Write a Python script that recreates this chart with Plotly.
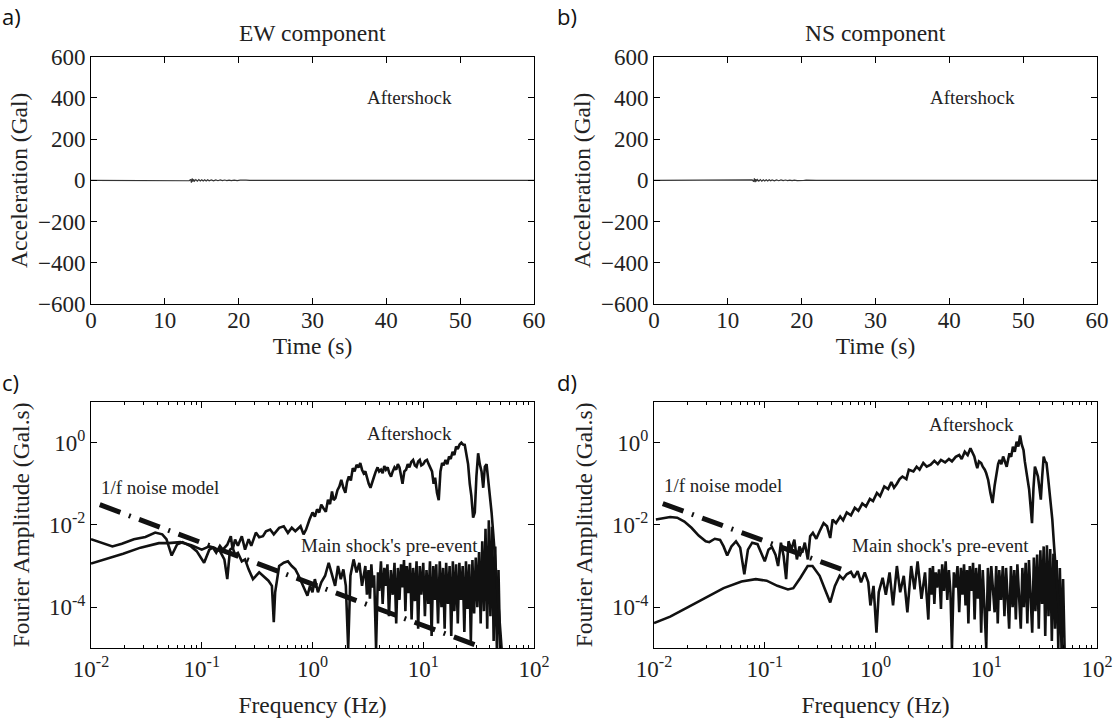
import numpy as np
import plotly.graph_objects as go

# ---------------- data ----------------
# Acceleration time histories (s, Gal)
t_ew = [0, 13.0, 13.3, 13.5, 13.6, 13.7, 13.8, 13.9, 14.0, 14.2, 14.4, 14.6, 14.8, 15.0, 15.2, 15.4,
        15.6, 15.8, 16.0, 16.3, 16.6, 16.9, 17.2, 17.5, 17.8, 18.1, 18.4, 18.7, 19.0, 19.4, 19.8,
        20.2, 20.6, 21.0, 21.5, 22.0, 22.5, 60]
acc_ew = [0, 0, -2, 5, -11, 9, -6, 5, -4, 4, -3.5, 3.5, -3, 3, -3, 2.8, -2.6, 2.5, -2.4, 2.2, -2, 2,
          -1.8, 1.7, -1.6, 1.5, -1.4, 1.3, -1.2, 1.1, -1, 0.9, -0.8, 0.7, -0.5, 0.3, 0, 0]
t_ns = [0, 13.0, 13.3, 13.5, 13.6, 13.7, 13.8, 13.9, 14.0, 14.2, 14.4, 14.6, 14.8, 15.0, 15.2, 15.4,
        15.6, 15.8, 16.0, 16.3, 16.6, 16.9, 17.2, 17.5, 17.8, 18.1, 18.4, 18.7, 19.0, 19.4, 19.8,
        20.2, 20.6, 21.0, 21.5, 22.0, 22.5, 60]
acc_ns = [0, 0, 2, -6, 10, -9, 6, -5, 4, -4, 3.5, -3.5, 3, -3, 2.8, -2.6, 2.5, -2.4, 2.2, -2, 2, -1.8,
          1.7, -1.6, 1.5, -1.4, 1.3, -1.2, 1.1, -1, 0.9, -0.8, 0.7, -0.5, 0.4, -0.2, 0, 0]

# Fourier spectra, EW component (Hz, Gal.s)
ew_after_f = [0.01, 0.0125, 0.0156, 0.019, 0.0244, 0.031, 0.038, 0.044, 0.048, 0.0535, 0.06, 0.067,
              0.08, 0.09, 0.1, 0.105, 0.117, 0.126, 0.135, 0.146, 0.155, 0.17, 0.183, 0.19, 0.2,
              0.212, 0.23, 0.246, 0.265, 0.28, 0.308, 0.33, 0.357, 0.38, 0.415, 0.447, 0.5, 0.55,
              0.6, 0.65, 0.7, 0.78, 0.83, 0.875, 0.94,
              1.0, 1.05, 1.1, 1.15, 1.2, 1.26, 1.32, 1.38, 1.44, 1.5, 1.55, 1.61, 1.68, 1.75, 1.82,
              1.9, 1.98, 2.05, 2.13, 2.22, 2.31, 2.4, 2.5, 2.6, 2.7, 2.8, 2.9, 3.0, 3.1, 3.22, 3.34,
              3.47, 3.6, 3.73, 3.87, 4.0, 4.15, 4.3, 4.45, 4.6, 4.77, 4.94, 5.12, 5.3, 5.5, 5.7,
              5.9, 6.1, 6.3, 6.5, 6.75, 7.0, 7.25, 7.5, 7.8, 8.1, 8.4, 8.7, 9.0, 9.3, 9.6, 10.0,
              10.4, 10.8, 11.2, 11.6, 12.0, 12.4, 12.8, 13.3, 13.8, 14.3, 14.8, 15.3, 15.9, 16.5,
              17.1, 17.7, 18.4, 19.1, 19.8, 20.5, 21.3, 22.1, 22.9, 23.7, 24.5, 25.4, 26.3, 27.2,
              28.2, 29.2, 30.2, 31.3, 32.4, 33.6, 34.8, 36.0, 37.3, 38.6, 40.0, 41.4, 42.9, 44.4,
              46.0, 47.6, 49.3, 51]
ew_after_a = [4.5e-3, 3.6e-3, 3.0e-3, 3.5e-3, 4.5e-3, 5.1e-3, 6.5e-3, 5.9e-3, 4.5e-3, 1.8e-3, 3.4e-3,
              3.8e-3, 3.0e-3, 2.3e-3, 1.45e-3, 1.2e-3, 2.5e-3, 2.8e-3, 2.1e-3, 3.1e-3, 2.5e-3,
              3.3e-3, 5.3e-3, 2.5e-3, 4.4e-3, 3.1e-3, 5.3e-3, 2.5e-3, 4.5e-3, 3.1e-3, 6.5e-3, 5e-3,
              5.3e-3, 7e-3, 7.7e-3, 5.9e-3, 8.5e-3, 9.3e-3, 6.4e-3, 8.5e-3, 7e-3, 9.3e-3, 5.9e-3,
              7.7e-3, 1.35e-2,
              2e-2, 1.6e-2, 2.4e-2, 2e-2, 3.1e-2, 2.5e-2, 2.1e-2, 4.1e-2, 3.2e-2, 6.5e-2, 4e-2,
              4.5e-2, 7e-2, 8.6e-2, 0.125, 8e-2, 6e-2, 0.11, 0.15, 0.12, 0.24, 0.2, 0.29, 0.25,
              0.32, 0.22, 0.18, 0.2, 0.14, 0.1, 8e-2, 0.12, 0.15, 0.2, 0.25, 0.2, 0.22, 0.18, 0.27,
              0.22, 0.25, 0.18, 0.15, 0.2, 0.25, 0.22, 0.3, 0.25, 0.16, 0.1, 0.2, 0.22, 0.3, 0.25,
              0.34, 0.38, 0.28, 0.26, 0.35, 0.38, 0.28, 0.3, 0.36, 0.38, 0.3, 0.25, 0.2, 0.1, 0.14,
              0.06, 0.04, 0.2, 0.32, 0.28, 0.38, 0.3, 0.46, 0.4, 0.6, 0.5, 0.8, 0.7, 0.9, 1.0, 0.9,
              0.88, 0.5, 0.3, 0.1, 0.05, 0.015, 0.02, 0.15, 0.55, 0.3, 0.2, 0.08, 0.26, 0.3, 0.12,
              0.06, 0.02, 6e-3, 1.5e-3, 5e-4, 1.5e-4, 4e-5, 1e-5]
ew_pre_f = [0.01, 0.0135, 0.0195, 0.028, 0.041, 0.05, 0.064, 0.0805, 0.1, 0.117, 0.13, 0.146, 0.16,
            0.17, 0.18, 0.19, 0.2, 0.212, 0.23, 0.246, 0.265, 0.29, 0.308, 0.33, 0.357, 0.4, 0.43,
            0.447, 0.46, 0.5, 0.55, 0.6, 0.65, 0.7, 0.75, 0.8, 0.85, 0.9, 0.95, 1.0, 1.05, 1.12,
            1.2, 1.3, 1.4, 1.5, 1.6, 1.7, 1.8, 1.9, 2.0, 2.1, 2.2, 2.35, 2.5, 2.65, 2.8,
            3.0, 3.1, 3.2, 3.3, 3.4, 3.5, 3.6, 3.75, 3.9, 4.0, 4.15, 4.3, 4.45, 4.6, 4.75, 4.9,
            5.1, 5.3, 5.5, 5.7, 5.9, 6.1, 6.3, 6.5, 6.7, 6.9, 7.1, 7.35, 7.6, 7.85, 8.1, 8.4, 8.7,
            9.0, 9.3, 9.6, 10, 10.35, 10.7, 11.1, 11.5, 11.9, 12.3, 12.7, 13.1, 13.6, 14.1, 14.6,
            15.1, 15.6, 16.1, 16.7, 17.3, 17.9, 18.5, 19.1, 19.8, 20.5, 21.2, 21.9, 22.7, 23.5,
            24.3, 25.1, 26, 26.9, 27.8, 28.8, 29.8, 30.8, 31.9, 33, 34.1, 35.3, 36.5, 37.8, 39.1,
            40.4, 41.8, 43.2, 44.7, 46.2, 47.8, 49.4, 51]
ew_pre_a = [1.15e-3, 1.45e-3, 2.0e-3, 2.8e-3, 3.6e-3, 3.6e-3, 3.8e-3, 3.2e-3, 2.5e-3, 3.0e-3, 2.8e-3,
            2.3e-3, 1.45e-3, 4.8e-4, 2.5e-3, 2.8e-3, 1.9e-3, 2.1e-3, 1.3e-3, 1.45e-3, 8.3e-4,
            4.8e-4, 5.8e-4, 7e-4, 5.8e-4, 4.4e-4, 3.3e-4, 4.3e-5, 2.3e-4, 1e-3, 1.2e-3, 1.3e-3,
            1e-3, 8.3e-4, 5.8e-4, 4e-4, 2.7e-4, 1.9e-4, 3.3e-4, 2.3e-4, 4.8e-4, 2.3e-4, 4e-4,
            5.8e-4, 1.2e-3, 5.8e-4, 3.3e-4, 1e-3, 4.8e-4, 8.3e-4, 3.3e-4, 1e-5, 5.8e-4, 1.45e-3,
            7e-4, 1.2e-3, 3.3e-4,
            1e-3, 2e-4, 8e-4, 1.6e-4, 1.1e-3, 3e-4, 6e-4, 1e-5, 7e-4, 2.5e-4, 1.3e-3, 1.2e-4,
            9e-4, 3.3e-4, 1.1e-3, 6e-5, 8e-4, 2e-4, 1.2e-3, 4e-5, 9e-4, 1.5e-4, 1.1e-3, 3e-4,
            1.4e-3, 8e-5, 1e-3, 2.2e-4, 1.2e-3, 5e-5, 9e-4, 1.4e-4, 1.3e-3, 3e-5, 1e-3, 2e-4,
            1.2e-3, 6e-5, 8e-4, 1.2e-4, 1.3e-3, 2e-5, 1e-3, 1.5e-4, 1.1e-3, 4e-5, 1.3e-3, 1e-4,
            9e-4, 3e-5, 1.2e-3, 1.2e-4, 1e-3, 2e-5, 1.3e-3, 8e-5, 1.1e-3, 4e-5, 1.2e-3, 1.5e-4,
            1e-3, 2.5e-5, 1.3e-3, 9e-5, 1.1e-3, 1.5e-5, 1.4e-3, 7e-5, 1.6e-3, 1e-4, 2.2e-3, 4e-5,
            4e-3, 8e-5, 8e-3, 3e-5, 1.3e-2, 6e-5, 9e-3, 1.5e-5, 3e-3, 1e-5, 8e-4, 1e-5, 1e-5]
ew_noise_f = [0.012, 31]
ew_noise_a = [0.031, 1.15e-5]

# Fourier spectra, NS component (Hz, Gal.s)
ns_after_f = [0.0104, 0.012, 0.014, 0.0162, 0.0188, 0.0218, 0.0253, 0.0293, 0.0316, 0.0354, 0.0395,
              0.0425, 0.0458, 0.05, 0.055, 0.06, 0.0654, 0.0705, 0.077, 0.086, 0.093, 0.1, 0.108,
              0.116, 0.125, 0.132, 0.14, 0.148, 0.156, 0.164, 0.174, 0.185, 0.195, 0.206, 0.218,
              0.23, 0.245, 0.257, 0.272, 0.292, 0.313, 0.34, 0.365, 0.39, 0.41, 0.44, 0.48, 0.51,
              0.55, 0.6, 0.65, 0.7, 0.76, 0.82, 0.89, 0.95, 1.03, 1.1, 1.2, 1.3, 1.39, 1.47, 1.56,
              1.65, 1.75, 1.9, 2.0, 2.2, 2.35, 2.5, 2.7, 2.9, 3.15, 3.4, 3.65, 3.9, 4.25, 4.6, 4.9,
              5.3, 5.7, 6.0, 6.4, 6.8,
              7.2, 7.5, 7.8, 8.1, 8.3, 8.6, 9.0, 9.3, 9.7, 10.0, 10.4, 10.9, 11.4, 11.9, 12.3, 12.8,
              13.2, 13.7, 14.2, 14.7, 15.3, 15.8, 16.2, 16.8, 17.4, 18.1, 18.8, 19.5, 20.2, 20.9,
              21.7, 22.3, 23.0, 23.7, 24.4, 25.1, 25.9, 26.7, 27.5, 28.4, 29.3, 30.2, 31.1, 32.0,
              33, 34, 35, 36.1, 37.2, 38.3, 39.5, 40.7, 42, 43.2, 44.5, 45.8, 47.2, 49.3]
ns_after_a = [1.35e-2, 1.45e-2, 1.55e-2, 1.5e-2, 1.2e-2, 8.5e-3, 5.5e-3, 4e-3, 3.8e-3, 4.6e-3, 4.3e-3,
              3e-3, 1.8e-3, 3e-3, 4e-3, 2.8e-3, 6.3e-4, 2.5e-3, 3.7e-3, 3.4e-3, 2.1e-3, 1.3e-3,
              2.5e-3, 2.9e-3, 1.9e-3, 1e-3, 3.7e-3, 1.75e-3, 4.8e-4, 4e-3, 2.5e-3, 4.4e-3, 1.45e-3,
              3e-3, 2.1e-3, 3.7e-3, 1.45e-3, 5.3e-3, 6.4e-3, 4.6e-3, 7e-3, 1.1e-2, 9.3e-3, 4.8e-3,
              1.35e-2, 1.1e-2, 1.6e-2, 1.3e-2, 2.0e-2, 1.7e-2, 2.6e-2, 2.2e-2, 3.3e-2, 2.8e-2,
              4.3e-2, 3.8e-2, 6e-2, 5e-2, 8.6e-2, 7.4e-2, 0.11, 8e-2, 0.1, 0.13, 0.15, 0.13, 0.22,
              0.2, 0.26, 0.22, 0.32, 0.26, 0.29, 0.36, 0.3, 0.38, 0.33, 0.4, 0.35, 0.45, 0.5, 0.4,
              0.6, 0.5,
              0.73, 0.55, 0.46, 0.3, 0.24, 0.35, 0.32, 0.26, 0.22, 0.18, 0.125, 0.06, 3.4e-2, 0.09,
              0.18, 0.3, 0.38, 0.3, 0.46, 0.35, 0.26, 0.4, 0.55, 0.45, 0.8, 0.6, 1.05, 0.8, 1.5,
              0.9, 0.66, 0.35, 0.18, 0.12, 7.2e-2, 0.03, 1.1e-2, 0.08, 0.26, 0.2, 0.15, 0.08,
              4.1e-2, 0.15, 0.46, 0.35, 0.32, 0.15, 7.2e-2, 0.04, 1.35e-2, 4e-3, 1e-3, 4e-4, 1.6e-4,
              6e-5, 2.4e-5, 1e-5]
ns_pre_f = [0.01, 0.014, 0.0203, 0.0293, 0.0425, 0.0617, 0.083, 0.104, 0.13, 0.162, 0.181, 0.21,
            0.244, 0.27, 0.313, 0.35, 0.39, 0.43, 0.475, 0.51, 0.55, 0.6, 0.64, 0.69, 0.74, 0.8,
            0.86, 0.9, 0.96, 1.02, 1.07, 1.16, 1.24, 1.34, 1.44, 1.56, 1.67, 1.8, 1.94, 2.1, 2.25,
            2.4, 2.6, 2.8,
            3.0, 3.1, 3.2, 3.3, 3.4, 3.5, 3.6, 3.75, 3.9, 4.0, 4.15, 4.3, 4.45, 4.6, 4.75, 4.9,
            5.1, 5.3, 5.5, 5.7, 5.9, 6.1, 6.3, 6.5, 6.7, 6.9, 7.1, 7.35, 7.6, 7.85, 8.1, 8.4, 8.7,
            9.0, 9.3, 9.6, 10, 10.35, 10.7, 11.1, 11.5, 11.9, 12.3, 12.7, 13.1, 13.6, 14.1, 14.6,
            15.1, 15.6, 16.1, 16.7, 17.3, 17.9, 18.5, 19.1, 19.8, 20.5, 21.2, 21.9, 22.7, 23.5,
            24.3, 25.1, 26, 26.9, 27.8, 28.8, 29.8, 30.8, 31.9, 33, 34.1, 35.3, 36.5, 37.8, 39.1,
            40.4, 41.8, 43.2, 44.7, 46.2, 47.8, 49.4, 51]
ns_pre_a = [4.1e-5, 5.9e-5, 1e-4, 1.7e-4, 2.9e-4, 4.2e-4, 4.8e-4, 4.4e-4, 3.3e-4, 2.7e-4, 2.9e-4,
            5.2e-4, 1e-3, 1e-3, 5.8e-4, 2.7e-4, 1.3e-4, 3.3e-4, 5.8e-4, 4.8e-4, 6.3e-4, 7.2e-4,
            5.2e-4, 7.5e-4, 4e-4, 7e-4, 4e-4, 1.1e-4, 3.3e-4, 2.4e-5, 2.3e-4, 5.2e-4, 2e-4, 7e-4,
            1.1e-4, 1e-3, 2.3e-4, 5.8e-4, 7.5e-5, 1e-3, 2.7e-4, 1.3e-3, 1.6e-4, 7e-4,
            5e-5, 9e-4, 2e-4, 1e-3, 1.2e-4, 7e-4, 3e-4, 8.3e-4, 9e-5, 1.1e-3, 2.5e-4, 1.3e-3,
            1.5e-4, 8e-4, 2.3e-4, 1e-5, 7e-4, 3e-4, 1e-3, 7.5e-5, 9e-4, 2e-4, 1.1e-3, 1.1e-4,
            8e-4, 4e-5, 1e-3, 2.5e-4, 1.2e-3, 5e-5, 9e-4, 1.6e-4, 1.1e-3, 2.4e-5, 8e-4, 1.2e-4,
            1e-5, 9e-4, 8e-5, 1e-3, 2e-4, 7.5e-5, 1e-3, 4e-5, 8e-4, 1.5e-4, 1e-3, 6e-5, 9e-4,
            2e-4, 3e-5, 1e-3, 1e-4, 8e-4, 5e-5, 1.1e-3, 2e-4, 3e-5, 9e-4, 1e-4, 1.2e-3, 4e-5,
            1.4e-3, 1.5e-4, 2.4e-5, 1.6e-3, 8e-5, 1.9e-3, 3e-5, 2.4e-3, 1.2e-4, 3e-3, 2e-5, 3.2e-3,
            6e-5, 2.6e-3, 1.5e-5, 2e-3, 3e-5, 1.4e-3, 1e-5, 9e-4, 1e-5, 4.8e-4, 1e-5]
ns_noise_f = [0.012, 0.57]
ns_noise_a = [0.033, 7.2e-4]

for a, b in [(t_ew, acc_ew), (t_ns, acc_ns), (ew_after_f, ew_after_a), (ew_pre_f, ew_pre_a),
             (ns_after_f, ns_after_a), (ns_pre_f, ns_pre_a)]:
    assert len(a) == len(b), (len(a), len(b))

# tick labels
acc_ticks = [-600, -400, -200, 0, 200, 400, 600]
time_ticks = [0, 10, 20, 30, 40, 50, 60]
freq_ticks = [0.01, 0.1, 1, 10, 100]
freq_ticktext = ["10<sup>-2</sup>", "10<sup>-1</sup>", "10<sup>0</sup>", "10<sup>1</sup>", "10<sup>2</sup>"]
amp_ticks = [1e-4, 1e-2, 1]
amp_ticktext = ["10<sup>-4</sup>", "10<sup>-2</sup>", "10<sup>0</sup>"]

# ---------------- figure ----------------
W, H = 1116, 724
SERIF = "Liberation Serif"
SANS = "Open Sans"
INK = "#111111"
TXT = "#222222"

fig = go.Figure()

def line(x, y, xa, ya, width=2.6, color=INK, dash="solid"):
    fig.add_trace(go.Scatter(x=x, y=y, xaxis=xa, yaxis=ya, mode="lines",
                             line=dict(color=color, width=width, dash=dash),
                             showlegend=False, hoverinfo="skip"))

line(t_ew, acc_ew, "x", "y", width=1.2, color="#333333")
line(t_ns, acc_ns, "x2", "y2", width=1.2, color="#333333")

NOISE_DASH = "22px,9px,2px,9px"
line(ew_noise_f, ew_noise_a, "x3", "y3", width=5, dash=NOISE_DASH)
line(ew_pre_f, ew_pre_a, "x3", "y3")
line(ew_after_f, ew_after_a, "x3", "y3")

line(ns_noise_f, ns_noise_a, "x4", "y4", width=5, dash=NOISE_DASH)
line(ns_pre_f, ns_pre_a, "x4", "y4")
line(ns_after_f, ns_after_a, "x4", "y4")

xl = [91 / W, 534 / W]
xr = [654 / W, 1097 / W]
yt = [1 - 304 / H, 1 - 56.7 / H]
yb = [1 - 648.3 / H, 1 - 401.5 / H]

tickfont = dict(family=SERIF, size=23, color=TXT)
titlefont = dict(family=SERIF, size=23.5, color=TXT)
common = dict(showline=True, linecolor="black", linewidth=1, mirror="ticks", ticks="inside",
              ticklen=6, tickcolor="black", showgrid=False, zeroline=False, tickfont=tickfont,
              automargin=False)

minor_vals = [m * 10.0 ** e for e in range(-2, 2) for m in range(2, 10)]

def time_x(domain, anchor):
    return dict(common, domain=domain, anchor=anchor, range=[0, 60], tickmode="array",
                tickvals=time_ticks, ticklabelstandoff=-5,
                title=dict(text="Time (s)", font=titlefont, standoff=0))

def acc_y(domain, anchor):
    return dict(common, domain=domain, anchor=anchor, range=[-600, 600], tickmode="array",
                tickvals=acc_ticks,
                title=dict(text="Acceleration (Gal)", font=titlefont, standoff=3))

def freq_x(domain, anchor):
    return dict(common, domain=domain, anchor=anchor, type="log", range=[-2, 2], tickmode="array",
                tickvals=freq_ticks, ticktext=freq_ticktext,
                minor=dict(tickmode="array", tickvals=minor_vals, ticks="inside", ticklen=3,
                           tickcolor="black", showgrid=False),
                title=dict(text="Frequency (Hz)", font=titlefont, standoff=15))

def amp_y(domain, anchor):
    return dict(common, domain=domain, anchor=anchor, type="log", range=[-5, 1], tickmode="array",
                tickvals=amp_ticks, ticktext=amp_ticktext,
                title=dict(text="Fourier Amplitude (Gal.s)", font=titlefont, standoff=12))

fig.update_layout(
    width=W, height=H, margin=dict(l=0, r=0, t=0, b=0),
    paper_bgcolor="white", plot_bgcolor="white", showlegend=False,
    font=dict(family=SERIF, size=19, color=TXT),
    xaxis=time_x(xl, "y"), yaxis=acc_y(yt, "x"),
    xaxis2=time_x(xr, "y2"), yaxis2=acc_y(yt, "x2"),
    xaxis3=freq_x(xl, "y3"), yaxis3=amp_y(yb, "x3"),
    xaxis4=freq_x(xr, "y4"), yaxis4=amp_y(yb, "x4"),
)

def note(text, x, y, xref="paper", yref="paper", font=None, xanchor="center"):
    fig.add_annotation(text=text, x=x, y=y, xref=xref, yref=yref, showarrow=False,
                       xanchor=xanchor, yanchor="middle",
                       font=font or dict(family=SERIF, size=19, color=TXT))

panel_font = dict(family=SANS, size=22, color="#111111")
note("a)", 0.0, 1 - 16 / H, font=panel_font, xanchor="left")
note("b)", 555 / W, 1 - 16 / H, font=panel_font, xanchor="left")
note("c)", 0.0, 1 - 382 / H, font=panel_font, xanchor="left")
note("d)", 555 / W, 1 - 382 / H, font=panel_font, xanchor="left")

note("EW component", (xl[0] + xl[1]) / 2, 1 - 33 / H, font=titlefont)
note("NS component", (xr[0] + xr[1]) / 2, 1 - 33 / H, font=titlefont)

note("Aftershock", 43.2, 400, "x", "y")
note("Aftershock", 43.2, 400, "x2", "y2")

lg = np.log10
note("Aftershock", lg(7.5), lg(1.68), "x3", "y3")
note("1/f noise model", lg(0.0417), lg(0.079), "x3", "y3")
note("Main shock's pre-event", lg(4.93), lg(3.2e-3), "x3", "y3")
note("Aftershock", lg(7.43), lg(2.7), "x4", "y4")
note("1/f noise model", lg(0.0417), lg(0.089), "x4", "y4")
note("Main shock's pre-event", lg(3.86), lg(3.2e-3), "x4", "y4")

fig.write_html("out.html")
